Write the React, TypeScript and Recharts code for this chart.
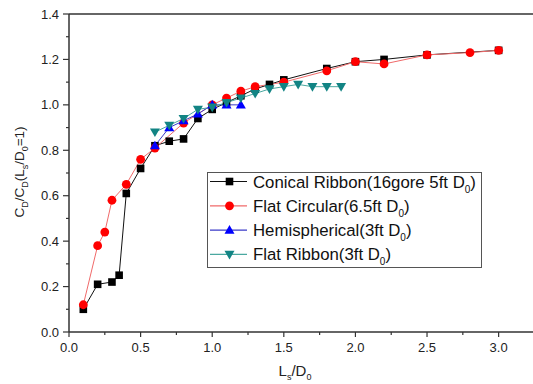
import React from 'react';
import { LineChart, Line, XAxis, YAxis, ReferenceLine, Legend } from 'recharts';

const conicalX = [0.1, 0.2, 0.3, 0.35, 0.4, 0.5, 0.6, 0.7, 0.8, 0.9, 1.0, 1.1, 1.2, 1.3, 1.4, 1.5, 1.8, 2.0, 2.2, 2.5, 3.0];
const conicalY = [0.10, 0.21, 0.22, 0.25, 0.61, 0.72, 0.82, 0.84, 0.85, 0.94, 0.98, 1.01, 1.04, 1.07, 1.09, 1.11, 1.16, 1.19, 1.20, 1.22, 1.24];

const flatCircX = [0.1, 0.2, 0.25, 0.3, 0.4, 0.5, 0.6, 0.8, 1.0, 1.1, 1.2, 1.3, 1.5, 1.8, 2.0, 2.2, 2.5, 2.8, 3.0];
const flatCircY = [0.12, 0.38, 0.44, 0.58, 0.65, 0.76, 0.81, 0.92, 1.0, 1.03, 1.06, 1.08, 1.10, 1.15, 1.19, 1.18, 1.22, 1.23, 1.24];

const hemiX = [0.6, 0.7, 0.8, 0.9, 1.0, 1.1, 1.2];
const hemiY = [0.82, 0.90, 0.93, 0.96, 1.0, 1.0, 1.0];

const flatRibX = [0.6, 0.7, 0.8, 0.9, 1.0, 1.1, 1.2, 1.3, 1.4, 1.5, 1.6, 1.7, 1.8, 1.9];
const flatRibY = [0.88, 0.91, 0.94, 0.98, 0.99, 1.01, 1.03, 1.05, 1.07, 1.08, 1.09, 1.08, 1.08, 1.08];

const xTicks = [0, 0.25, 0.5, 0.75, 1.0, 1.25, 1.5, 1.75, 2.0, 2.25, 2.5, 2.75, 3.0];
const yTicks = [0, 0.1, 0.2, 0.3, 0.4, 0.5, 0.6, 0.7, 0.8, 0.9, 1.0, 1.1, 1.2, 1.3, 1.4];

const legendNames = ['Conical Ribbon(16gore 5ft D', 'Flat Circular(6.5ft D', 'Hemispherical(3ft D', 'Flat Ribbon(3ft D'];

const toPts = (xs: number[], ys: number[]) => xs.map((x, i) => ({ x, y: ys[i] }));

const FONT = '"Liberation Sans", Arial, sans-serif';

type Shape = 'square' | 'circle' | 'up' | 'down';

const Marker = ({ shape, cx, cy, fill }: { shape: Shape; cx: number; cy: number; fill: string }) => {
  if (shape === 'square') return <rect x={cx - 3.8} y={cy - 3.8} width={7.6} height={7.6} fill={fill} />;
  if (shape === 'circle') return <circle cx={cx} cy={cy} r={4.4} fill={fill} />;
  if (shape === 'up')
    return <polygon points={`${cx},${cy - 5} ${cx - 5},${cy + 3.6} ${cx + 5},${cy + 3.6}`} fill={fill} />;
  return <polygon points={`${cx},${cy + 5} ${cx - 5},${cy - 3.6} ${cx + 5},${cy - 3.6}`} fill={fill} />;
};

const series = [
  { key: 'conical', data: toPts(conicalX, conicalY), line: '#111111', fill: '#000000', shape: 'square' as Shape },
  { key: 'flatcirc', data: toPts(flatCircX, flatCircY), line: '#f06a6a', fill: '#ff0000', shape: 'circle' as Shape },
  { key: 'hemi', data: toPts(hemiX, hemiY), line: '#3a3ac8', fill: '#0000ff', shape: 'up' as Shape },
  { key: 'flatrib', data: toPts(flatRibX, flatRibY), line: '#4aa8a0', fill: '#128484', shape: 'down' as Shape },
];

const XTick = (props: any) => {
  const { x, y, payload } = props;
  const v = payload.value as number;
  const major = Math.abs(v * 2 - Math.round(v * 2)) < 1e-6;
  return (
    <g>
      <line x1={x} x2={x} y1={y} y2={y + (major ? 5 : 3)} stroke="#333" strokeWidth={1.2} />
      {major && (
        <text x={x} y={y + 20} textAnchor="middle" fontSize={13} fontFamily={FONT} fill="#222">
          {v.toFixed(1)}
        </text>
      )}
    </g>
  );
};

const YTick = (props: any) => {
  const { x, y, payload } = props;
  const v = payload.value as number;
  const major = Math.abs(v * 5 - Math.round(v * 5)) < 1e-6;
  return (
    <g>
      <line x1={x - (major ? 6 : 3)} x2={x} y1={y} y2={y} stroke="#333" strokeWidth={1.2} />
      {major && (
        <text x={x - 10} y={y + 4.5} textAnchor="end" fontSize={13} fontFamily={FONT} fill="#222">
          {v.toFixed(1)}
        </text>
      )}
    </g>
  );
};

const XLabel = () => (
  <text x={295} y={376} textAnchor="middle" fontSize={15} fontFamily={FONT} fill="#222">
    L<tspan fontSize={9} dy={3.5}>s</tspan>
    <tspan dy={-3.5}>/D</tspan>
    <tspan fontSize={9} dy={3.5}>0</tspan>
  </text>
);

const YLabel = () => (
  <text x={0} y={0} transform="translate(24,172) rotate(-90)" textAnchor="middle" fontSize={13.5} fontFamily={FONT} fill="#222">
    C<tspan fontSize={9} dy={4}>D</tspan>
    <tspan dy={-4}>/C</tspan>
    <tspan fontSize={9} dy={4}>D</tspan>
    <tspan dy={-4}>(L</tspan>
    <tspan fontSize={9} dy={4}>s</tspan>
    <tspan dy={-4}>/D</tspan>
    <tspan fontSize={9} dy={4}>0</tspan>
    <tspan dy={-4}>=1)</tspan>
  </text>
);

const LegendBox = () => (
  <div style={{ width: 275, height: 96, boxSizing: 'border-box', border: '1px solid #555', background: '#fff' }}>
    <svg width={273} height={94} style={{ display: 'block' }}>
      {series.map((s, i) => {
        const cy = 8.5 + i * 24.3;
        return (
          <g key={s.key}>
            <line x1={2} x2={39} y1={cy} y2={cy} stroke={s.line} strokeWidth={1.2} />
            <Marker shape={s.shape} cx={21.5} cy={cy} fill={s.fill} />
            <text x={45} y={cy + 6} fontSize={16.8} fontFamily={FONT} fill="#111">
              {legendNames[i]}
              <tspan fontSize={10} dy={5}>0</tspan>
              <tspan dy={-5}>)</tspan>
            </text>
          </g>
        );
      })}
    </svg>
  </div>
);

export default function App() {
  return (
    <div style={{ position: 'absolute', left: 0, top: 0, width: 533, height: 384, background: '#fff' }}>
      <LineChart width={533} height={384} margin={{ top: 14, right: 0, bottom: 0, left: 0 }}>
        <XAxis
          type="number"
          dataKey="x"
          domain={[0, 3.24]}
          ticks={xTicks}
          allowDataOverflow
          height={52}
          tickSize={0}
          tickMargin={0}
          tickLine={false}
          tick={<XTick />}
          stroke="#333"
          strokeWidth={1.5}
          label={<XLabel />}
          interval={0}
        />
        <YAxis
          type="number"
          dataKey="y"
          domain={[0, 1.4]}
          ticks={yTicks}
          allowDataOverflow
          width={69}
          tickSize={0}
          tickMargin={0}
          tickLine={false}
          tick={<YTick />}
          stroke="#333"
          strokeWidth={1.5}
          label={<YLabel />}
          interval={0}
        />
        <ReferenceLine y={1.4} stroke="#333" strokeWidth={1.5} />
        {series.map((s) => (
          <Line
            key={s.key}
            data={s.data}
            dataKey="y"
            type="linear"
            stroke={s.line}
            strokeWidth={1}
            isAnimationActive={false}
            dot={(p: any) => <Marker key={`${s.key}-${p.index}`} shape={s.shape} cx={p.cx} cy={p.cy} fill={s.fill} />}
            activeDot={false}
          />
        ))}
        <Legend
          layout="vertical"
          align="center"
          verticalAlign="middle"
          content={<LegendBox />}
          wrapperStyle={{ position: 'absolute', left: 207, top: 172, width: 275, height: 96 }}
        />
      </LineChart>
    </div>
  );
}
